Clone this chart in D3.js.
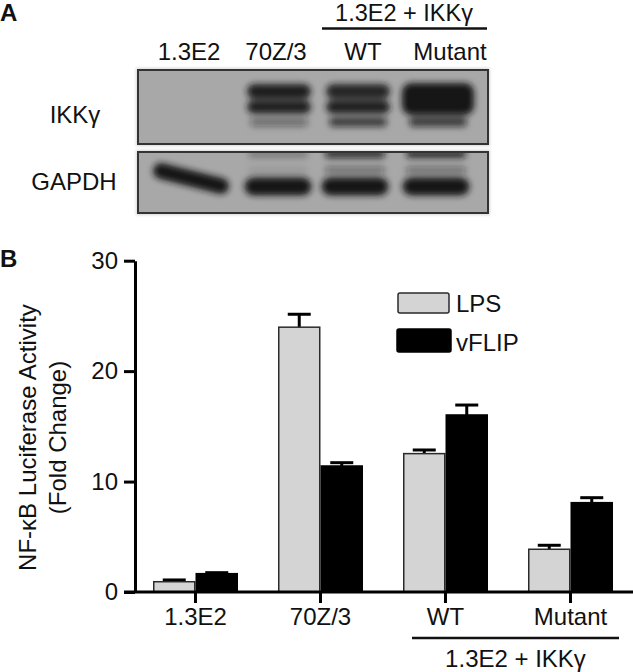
<!DOCTYPE html>
<html>
<head>
<meta charset="utf-8">
<script src="https://cdn.jsdelivr.net/npm/d3@7"></script>
<style>
  html, body { margin: 0; padding: 0; background: #fff; }
  svg { display: block; }
  text { font-family: "Liberation Sans", Arial, Helvetica, sans-serif; fill: #111; }
</style>
</head>
<body>
<svg id="fig" width="633" height="672"></svg>
<script>
// ---------------- data ----------------
const categories = ["1.3E2", "70Z/3", "WT", "Mutant"];
const seriesNames = ["LPS", "vFLIP"];
const lpsValues = [0.93, 23.98, 12.53, 3.87];
const lpsErrors = [0.16, 1.17, 0.33, 0.36];
const vflipValues = [1.66, 11.41, 16.03, 8.09];
const vflipErrors = [0.09, 0.30, 0.90, 0.45];
const yTicks = [0, 10, 20, 30];
const groupLabel = "1.3E2 + IKKγ";
const yTitle = ["NF-κB Luciferase Activity", "(Fold Change)"];

// western blot (panel A): relative band intensities per lane
const lanes = ["1.3E2", "70Z/3", "WT", "Mutant"];
const ikkUpper = [0, 0.95, 0.9, 1.0];
const ikkMiddle = [0, 0.95, 0.95, 1.0];
const ikkLower = [0, 0.4, 0.75, 0.75];
const ikkSaturated = [0, 0, 0, 1];
const gapdhMain = [1, 1, 1, 1];
const gapdhUpper = [0, 0.25, 0.8, 0.85];
const gapdhMiddle = [0, 0.1, 0.45, 0.45];

// ---------------- figure ----------------
const svg = d3.select("#fig");
const fontSize = 24;

// ===== Panel A =====
svg.append("text").attr("x", 0).attr("y", 21).attr("font-size", 24)
  .attr("font-weight", "bold").text("A");

const boxX0 = 138, boxX1 = 488;
const blot1 = {y0: 70, y1: 144};
const blot2 = {y0: 152, y1: 213};
const laneX = d3.scaleBand().domain(lanes).range([150, 478]);
const labelX = d3.scalePoint().domain(lanes).range([189, 450]);

const defs = svg.append("defs");
defs.append("filter").attr("id", "blur").attr("x", "-30%").attr("y", "-80%")
  .attr("width", "160%").attr("height", "260%")
  .append("feGaussianBlur").attr("stdDeviation", 3.2);
defs.append("filter").attr("id", "halo").append("feGaussianBlur").attr("stdDeviation", 1.5);
[blot1, blot2].forEach((b, i) => {
  defs.append("clipPath").attr("id", "clip" + i)
    .append("rect").attr("x", boxX0).attr("y", b.y0)
    .attr("width", boxX1 - boxX0).attr("height", b.y1 - b.y0);
});

// header over WT + Mutant lanes
svg.append("text").attr("x", 404).attr("y", 21).attr("text-anchor", "middle")
  .attr("font-size", 23.5).text(groupLabel);
svg.append("line").attr("x1", 322).attr("x2", 487).attr("y1", 28.5).attr("y2", 28.5)
  .attr("stroke", "#111").attr("stroke-width", 2.6);

svg.selectAll("text.lane").data(lanes).join("text").attr("class", "lane")
  .attr("x", d => labelX(d)).attr("y", 60).attr("text-anchor", "middle")
  .attr("font-size", fontSize).text(d => d);

svg.append("text").attr("x", 75).attr("y", 123).attr("text-anchor", "middle")
  .attr("font-size", fontSize).text("IKKγ");
svg.append("text").attr("x", 74).attr("y", 190).attr("text-anchor", "middle")
  .attr("font-size", fontSize).text("GAPDH");

function blotBox(b, idx) {
  svg.append("rect").attr("x", boxX0 - 2).attr("y", b.y0 - 2)
    .attr("width", boxX1 - boxX0 + 4).attr("height", b.y1 - b.y0 + 4)
    .attr("fill", "#d6d6d6").attr("filter", "url(#halo)");
  svg.append("rect").attr("x", boxX0).attr("y", b.y0)
    .attr("width", boxX1 - boxX0).attr("height", b.y1 - b.y0)
    .attr("fill", "#a8a8a8");
  return svg.append("g").attr("clip-path", "url(#clip" + idx + ")")
    .append("g").attr("filter", "url(#blur)");
}
function band(g, lane, intensity, yTop, h, w, dx) {
  if (!intensity) return;
  const cx = laneX(lane) + laneX.bandwidth() / 2 + (dx || 0);
  g.append("rect").attr("x", cx - w / 2).attr("y", yTop)
    .attr("width", w).attr("height", h).attr("rx", Math.min(9, h / 2))
    .attr("fill", "#141414").attr("opacity", intensity);
}
const g1 = blotBox(blot1, 0);
const ikkShift = [0, 6, 3, 1];
lanes.forEach((l, i) => {
  band(g1, l, ikkUpper[i], 84, 15, 64, ikkShift[i]);
  band(g1, l, ikkMiddle[i], 100.5, 13, 64, ikkShift[i]);
  band(g1, l, ikkSaturated[i], 83, 32, 72, ikkShift[i]);
  band(g1, l, ikkLower[i], 117.5, 9, 58, ikkShift[i]);
});
const g2 = blotBox(blot2, 1);
const gapShift = [0, 5, 0, -1];
lanes.forEach((l, i) => {
  band(g2, l, gapdhUpper[i], 150, 8, 60, gapShift[i]);
  band(g2, l, gapdhMiddle[i], 167, 6, 60, gapShift[i]);
  if (i === 0) {
    const cx = laneX(l) + laneX.bandwidth() / 2;
    g2.append("line").attr("x1", cx - 30).attr("y1", 171).attr("x2", cx + 30).attr("y2", 186)
      .attr("stroke", "#141414").attr("stroke-width", 16).attr("stroke-linecap", "round")
      .attr("opacity", gapdhMain[i]);
  } else {
    band(g2, l, gapdhMain[i], 177.5, 18, 67, gapShift[i]);
  }
});
[blot1, blot2].forEach(b => {
  svg.append("rect").attr("x", boxX0).attr("y", b.y0)
    .attr("width", boxX1 - boxX0).attr("height", b.y1 - b.y0)
    .attr("fill", "none").attr("stroke", "#333").attr("stroke-width", 2);
});

// ===== Panel B =====
svg.append("text").attr("x", 0).attr("y", 267).attr("font-size", 24)
  .attr("font-weight", "bold").text("B");

const y = d3.scaleLinear().domain([0, 30]).range([592, 260.7]);
const x = d3.scaleBand().domain(categories).range([133, 633])
  .paddingInner(0.32).paddingOuter(0.16);
const xs = d3.scaleBand().domain(seriesNames).range([0, x.bandwidth()]);

const rows = [];
categories.forEach((c, i) => {
  rows.push({cat: c, s: "LPS", v: lpsValues[i], e: lpsErrors[i]});
  rows.push({cat: c, s: "vFLIP", v: vflipValues[i], e: vflipErrors[i]});
});
const fills = {LPS: "#d4d4d4", vFLIP: "#000"};
const strokes = {LPS: "#2a2a2a", vFLIP: "#000"};

// error bars (behind bars)
const eb = svg.append("g");
rows.forEach(r => {
  const cx = x(r.cat) + xs(r.s) + xs.bandwidth() / 2;
  eb.append("line").attr("x1", cx).attr("x2", cx).attr("y1", y(r.v)).attr("y2", y(r.v + r.e))
    .attr("stroke", "#000").attr("stroke-width", 3);
  eb.append("line").attr("x1", cx - 11.5).attr("x2", cx + 11.5)
    .attr("y1", y(r.v + r.e)).attr("y2", y(r.v + r.e))
    .attr("stroke", "#000").attr("stroke-width", 3);
});

svg.append("g").selectAll("rect").data(rows).join("rect")
  .attr("x", d => x(d.cat) + xs(d.s) + 0.75)
  .attr("width", xs.bandwidth() - 1.5)
  .attr("y", d => y(d.v))
  .attr("height", d => y(0) - y(d.v))
  .attr("fill", d => fills[d.s])
  .attr("stroke", d => strokes[d.s])
  .attr("stroke-width", 1.5);

// axes
const yAxis = svg.append("g").attr("transform", "translate(135,0)")
  .call(d3.axisLeft(y).tickValues(yTicks).tickSize(11).tickSizeOuter(0).tickPadding(6));
const xAxis = svg.append("g").attr("transform", "translate(0,592)")
  .call(d3.axisBottom(x).tickSize(11).tickSizeOuter(0).tickPadding(5));
[yAxis, xAxis].forEach(a => {
  a.select(".domain").attr("stroke", "#000").attr("stroke-width", 3);
  a.selectAll(".tick line").attr("stroke", "#000").attr("stroke-width", 3);
  a.selectAll(".tick text").attr("font-size", fontSize)
    .attr("font-family", "'Liberation Sans', Arial, sans-serif").attr("fill", "#111");
});
xAxis.select(".domain").attr("d", "M124,0H633");

// y title
const yt = svg.append("g").attr("transform", "translate(0,437.5)");
yTitle.forEach((t, i) => {
  yt.append("text").attr("transform", `translate(${36 + i * 30},0) rotate(-90)`)
    .attr("text-anchor", "middle").attr("font-size", fontSize).text(t);
});

// legend
const legend = svg.append("g");
const legendRows = [
  {s: "LPS", x0: 398, w: 51, y0: 293, h: 20, ty: 312},
  {s: "vFLIP", x0: 397, w: 54, y0: 329, h: 23, ty: 351}
];
legendRows.forEach(r => {
  legend.append("rect").attr("x", r.x0).attr("y", r.y0).attr("width", r.w).attr("height", r.h)
    .attr("rx", 2).attr("fill", fills[r.s]).attr("stroke", strokes[r.s]).attr("stroke-width", 1.5);
  legend.append("text").attr("x", 456).attr("y", r.ty).attr("font-size", fontSize).text(r.s);
});

// group bracket under WT + Mutant
const bx0 = x("WT") + 9, bx1 = x("Mutant") + x.bandwidth() + 6;
svg.append("line").attr("x1", bx0).attr("x2", bx1).attr("y1", 638).attr("y2", 638)
  .attr("stroke", "#111").attr("stroke-width", 2.6);
svg.append("text").attr("x", (bx0 + bx1) / 2).attr("y", 667).attr("text-anchor", "middle")
  .attr("font-size", fontSize).text(groupLabel);
</script>
</body>
</html>
